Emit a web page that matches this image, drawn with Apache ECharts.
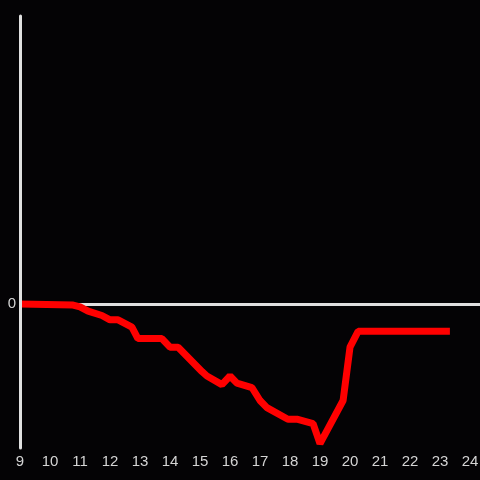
<!DOCTYPE html>
<html>
<head>
<meta charset="utf-8">
<script src="https://cdn.jsdelivr.net/npm/echarts@6/dist/echarts.min.js"></script>
<style>
  html, body { margin: 0; padding: 0; background: #040305; }
  #chart { width: 480px; height: 480px; }
</style>
</head>
<body>
<div id="chart"></div>
<script>
// hour of day (x) and value (y)
const hours = [9, 10.77, 11, 11.27, 11.73, 12, 12.27, 12.73, 12.93, 13.73, 14, 14.27,
  15.07, 15.23, 15.73, 16, 16.23, 16.73, 17, 17.23, 17.93, 18.23, 18.77, 19,
  19.77, 20, 20.27, 23.33];
const values = [0, -0.007, -0.02, -0.05, -0.08, -0.11, -0.11, -0.16, -0.24, -0.24, -0.30, -0.30,
  -0.47, -0.50, -0.56, -0.50, -0.55, -0.58, -0.67, -0.72, -0.80, -0.80, -0.83, -0.97,
  -0.67, -0.30, -0.19, -0.19];
const xTicks = [9, 10, 11, 12, 13, 14, 15, 16, 17, 18, 19, 20, 21, 22, 23, 24];
const yTicks = [0];

let myChart = echarts.init(document.getElementById('chart'));
myChart.setOption({
  backgroundColor: '#040305',
  animation: false,
  textStyle: { fontFamily: 'Liberation Sans' },
  grid: { left: 20, right: 0, top: 16, bottom: 32, outerBoundsMode: 'none', containLabel: false },
  xAxis: {
    type: 'value',
    min: 9,
    max: 9 + 460 / 30,
    interval: 1,
    axisLine: { show: false },
    axisTick: { show: false },
    splitLine: { show: false },
    axisLabel: {
      color: '#d4d4d4',
      fontFamily: 'Liberation Sans',
      fontSize: 15,
      margin: 6,
      formatter: function (v) {
        return xTicks.indexOf(v) >= 0 ? String(v) : '';
      }
    }
  },
  yAxis: {
    type: 'value',
    z: 5,
    min: -1,
    max: 2,
    interval: 1,
    axisLine: { show: true, onZero: false, lineStyle: { color: '#e0e0e0', width: 3 } },
    axisTick: { show: false },
    splitLine: { show: false },
    axisLabel: {
      color: '#d4d4d4',
      fontFamily: 'Liberation Sans',
      fontSize: 15,
      margin: 4,
      formatter: function (v) {
        return yTicks.indexOf(v) >= 0 ? String(v) : '';
      }
    }
  },
  series: [
    {
      // zero reference line
      type: 'line',
      data: [],
      z: 1,
      markLine: {
        silent: true,
        z: 1,
        symbol: 'none',
        label: { show: false },
        lineStyle: { color: '#e0e0e0', width: 3, type: 'solid' },
        data: [{ yAxis: 0 }]
      }
    },
    {
      type: 'line',
      z: 3,
      showSymbol: false,
      data: hours.map((h, i) => [h, values[i]]),
      lineStyle: { color: '#ff0000', width: 7 },
      itemStyle: { color: '#ff0000' }
    }
  ]
});
</script>
</body>
</html>
